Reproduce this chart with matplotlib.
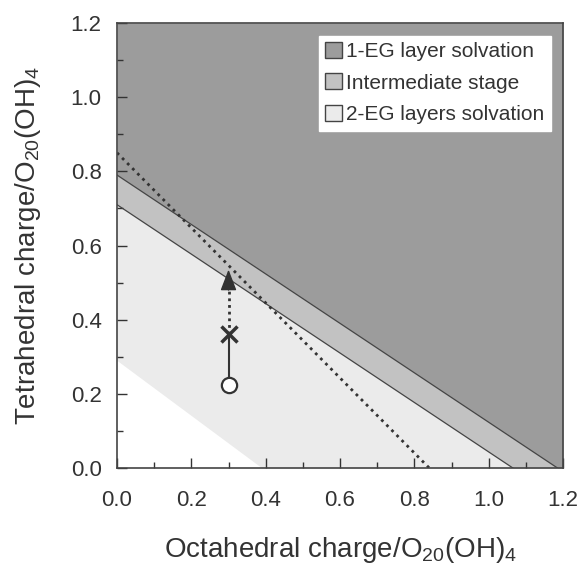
import numpy as np
import matplotlib
matplotlib.use("Agg")
import matplotlib.pyplot as plt
from matplotlib.patches import Patch

plt.rcParams['font.family'] = 'Liberation Sans'
plt.rcParams['mathtext.fontset'] = 'custom'
plt.rcParams['mathtext.rm'] = 'Liberation Sans'
plt.rcParams['mathtext.it'] = 'Liberation Sans'

# boundary lines (y intercept, x intercept)
upper_line = (0.79, 1.185)     # 1-EG / intermediate
lower_line = (0.71, 1.065)     # intermediate / 2-EG
white_line = (0.29, 0.39)      # lower limit of 2-EG region
dotted_line = (0.85, 0.84)

# path of the sample: circle, cross, arrow tip
path_x = [0.3, 0.3, 0.3]
path_y = [0.225, 0.36, 0.535]

labels = ["1-EG layer solvation", "Intermediate stage", "2-EG layers solvation"]
colors = ["#9c9c9c", "#c2c2c2", "#ebebeb"]
ink = "#333333"


def line_y(line, x):
    y0, x0 = line
    return np.clip(y0 - y0 / x0 * x, 0, None)


x = np.linspace(0, 1.2, 500)

fig = plt.figure(figsize=(5.86, 5.71), dpi=100)
ax = fig.add_axes([0.1997, 0.1804, 0.7611, 0.7793])

ax.fill_between(x, line_y(upper_line, x), 1.2, color=colors[0], lw=0)
ax.fill_between(x, line_y(lower_line, x), line_y(upper_line, x), color=colors[1], lw=0)
ax.fill_between(x, line_y(white_line, x), line_y(lower_line, x), color=colors[2], lw=0)

xl = np.linspace(0, upper_line[1], 50)
ax.plot(xl, line_y(upper_line, xl), color="#444444", lw=0.9)
xl = np.linspace(0, lower_line[1], 50)
ax.plot(xl, line_y(lower_line, xl), color="#444444", lw=0.9)
xl = np.linspace(0, dotted_line[1], 50)
ax.plot(xl, line_y(dotted_line, xl), color=ink, lw=2, linestyle=(0, (1, 1.6)))

# path: circle -> cross solid, cross -> arrow dotted
ax.plot(path_x[:2], path_y[:2], color=ink, lw=1.5)
ax.plot(path_x[1:], [path_y[1], path_y[2] - 0.05], color=ink, lw=2,
        linestyle=(0, (1, 1.4)))
ax.plot(path_x[0], path_y[0], marker="o", ms=11, mfc="white", mec=ink, mew=1.6)
ax.plot(path_x[1], path_y[1], marker="x", ms=11, color=ink, mew=2.5)
ax.annotate("", xy=(path_x[2], path_y[2]), xytext=(path_x[2], path_y[2] - 0.055),
            arrowprops=dict(arrowstyle="-|>,head_length=1.3,head_width=0.5",
                            color=ink, lw=1.0, shrinkA=0, shrinkB=0))

ax.set_xlim(0, 1.2)
ax.set_ylim(0, 1.2)
ax.set_xticks(np.arange(0, 1.21, 0.2))
ax.set_yticks(np.arange(0, 1.21, 0.2))
ax.set_xticks(np.arange(0, 1.21, 0.1), minor=True)
ax.set_yticks(np.arange(0, 1.21, 0.1), minor=True)
ax.tick_params(which="both", direction="in", top=False, right=False,
               labelsize=16, colors=ink)
ax.tick_params(which="major", length=7, width=1)
ax.tick_params(which="minor", length=4, width=1)
ax.tick_params(axis="x", pad=16)
ax.tick_params(axis="y", pad=11)
for s in ax.spines.values():
    s.set_color("#444444")
    s.set_linewidth(1.2)

ax.set_xlabel("Octahedral charge/O$_{20}$(OH)$_4$", fontsize=20, color=ink, labelpad=17)
ax.set_ylabel("Tetrahedral charge/O$_{20}$(OH)$_4$", fontsize=20, color=ink, labelpad=20)

handles = [Patch(facecolor=c, edgecolor="#444444", label=l) for c, l in zip(colors, labels)]
leg = ax.legend(handles=handles, loc="upper right", fontsize=15, frameon=True,
                fancybox=False, handlelength=0.8, handleheight=0.8, handletextpad=0.2,
                labelspacing=0.6, borderaxespad=0.6, borderpad=0.3)
leg.get_frame().set_facecolor("white")
leg.get_frame().set_edgecolor("white")
leg.get_frame().set_alpha(1)
for t in leg.get_texts():
    t.set_color(ink)

fig.savefig("out.png", dpi=100)
